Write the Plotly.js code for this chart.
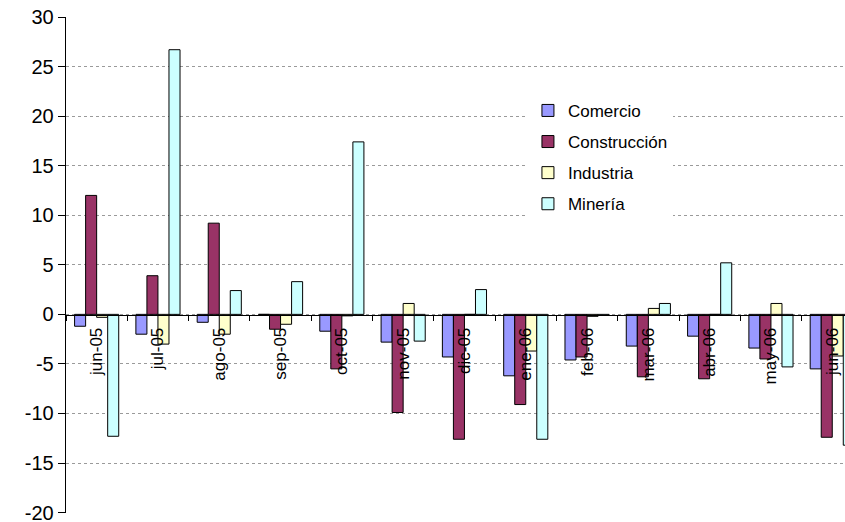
<!DOCTYPE html>
<html>
<head>
<meta charset="utf-8">
<script src="https://cdn.plot.ly/plotly-3.0.1.min.js"></script>
<style>html,body{margin:0;padding:0;background:#fff;}#chart{width:845px;height:522px;}</style>
</head>
<body>
<div id="chart"></div>
<script>
const categories = ["jun-05","jul-05","ago-05","sep-05","oct-05","nov-05","dic-05","ene-06","feb-06","mar-06","abr-06","may-06","jun-06"];
const comercio     = [-1.2, -2.0, -0.8,  0.0, -1.7, -2.8, -4.3, -6.2, -4.6, -3.2, -2.2, -3.4, -5.5];
const construccion = [12.0,  3.9,  9.2, -1.5, -5.5, -9.9, -12.6, -9.1, -4.3, -6.3, -6.5, -4.5, -12.4];
const industria    = [-0.3, -3.0, -2.0, -1.0, -0.15, 1.1,  0.0, -3.7, -0.2,  0.6,  0.0,  1.1, -4.2];
const mineria      = [-12.3, 26.7, 2.4,  3.3, 17.4, -2.7,  2.5, -12.6, -0.1, 1.1,  5.2, -5.3, -13.2];
const seriesNames  = ["Comercio","Construcción","Industria","Minería"];
const seriesColors = ["#9999FF","#993366","#FFFFCC","#CCFFFF"];
const yTicks = [-20,-15,-10,-5,0,5,10,15,20,25,30];

const values = [comercio, construccion, industria, mineria];
const traces = values.map((v, i) => ({
  type: 'bar',
  name: seriesNames[i],
  x: categories,
  y: v,
  legendgroup: 'g' + i,
  marker: {color: seriesColors[i], line: {color: '#000000', width: 1}},
  hoverinfo: 'x+y+name'
}));

const layout = {
  width: 845, height: 522,
  margin: {l: 66, r: 0, t: 17, b: 9, pad: 0},
  paper_bgcolor: '#ffffff',
  plot_bgcolor: '#ffffff',
  font: {family: '"Liberation Sans", Arial, sans-serif', color: '#000000', size: 17},
  barmode: 'group',
  bargap: 0.28,
  bargroupgap: 0,
  showlegend: true,
  legend: {
    x: 0.593, xanchor: 'left', y: 0.847, yanchor: 'top',
    bgcolor: '#ffffff', borderwidth: 0,
    font: {size: 17},
    traceorder: 'grouped',
    tracegroupgap: 6
  },
  xaxis: {
    type: 'category',
    range: [-0.5, 12.208],
    anchor: 'free',
    position: 0.4,
    showline: true, linecolor: '#000000', linewidth: 1.3,
    ticks: 'outside', tickson: 'boundaries', ticklen: 5, tickcolor: '#000000', tickwidth: 1,
    tickangle: -90,
    ticklabelstandoff: 5,
    tickfont: {size: 17},
    showgrid: false,
    zeroline: false,
    fixedrange: true
  },
  yaxis: {
    range: [-20.04, 30],
    tickvals: yTicks,
    ticktext: yTicks.map(String),
    ticklabeloverflow: 'allow',
    showline: true, linecolor: '#000000', linewidth: 1.3,
    ticks: 'outside', ticklen: 7, tickcolor: '#000000', tickwidth: 1,
    tickfont: {size: 20},
    showgrid: true, gridcolor: '#9a9a9a', gridwidth: 1, griddash: 'dot',
    zeroline: false,
    fixedrange: true
  }
};

Plotly.newPlot('chart', traces, layout, {displayModeBar: false, staticPlot: true});
</script>
</body>
</html>
